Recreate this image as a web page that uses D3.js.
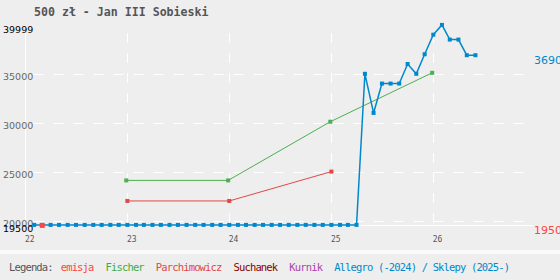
<!DOCTYPE html>
<html>
<head>
<meta charset="utf-8">
<script src="https://cdn.jsdelivr.net/npm/d3@7"></script>
<style>
  body { margin: 0; background: #eeeeee; }
  svg { display: block; }
</style>
</head>
<body>
<div id="chart"></div>
<script>
const title = "500 zł - Jan III Sobieski";

// allegro / sklepy, monthly
const allegroMonths = [
  "2022-02","2022-03","2022-04","2022-05","2022-06","2022-07","2022-08","2022-09","2022-10","2022-11","2022-12",
  "2023-01","2023-02","2023-03","2023-04","2023-05","2023-06","2023-07","2023-08","2023-09","2023-10","2023-11","2023-12",
  "2024-01","2024-02","2024-03","2024-04","2024-05","2024-06","2024-07","2024-08","2024-09","2024-10","2024-11","2024-12",
  "2025-01","2025-02","2025-03","2025-04","2025-05","2025-06","2025-07","2025-08","2025-09","2025-10","2025-11","2025-12",
  "2026-01","2026-02","2026-03","2026-04","2026-05","2026-06"
];
const allegroValues = [
  19550,19550,19550,19550,19550,19550,19550,19550,19550,19550,19550,
  19550,19550,19550,19550,19550,19550,19550,19550,19550,19550,19550,19550,
  19550,19550,19550,19550,19550,19550,19550,19550,19550,19550,19550,19550,
  19550,19550,19550,19550,35000,31000,34000,34000,34000,36000,35000,37000,
  39000,39999,38500,38500,36900,36900
];

const fischerDates = ["2022-12-28","2023-12-28","2024-12-28","2025-12-28"];
const fischerValues = [24100, 24100, 30100, 35100];

const parchDates = ["2023-01-01","2024-01-01","2025-01-01"];
const parchValues = [22000, 22000, 25000];

const emisjaDates = ["2022-03-02"];
const emisjaValues = [19500];

const yTicks = [35000, 30000, 25000, 20000];
const xYears = [2022, 2023, 2024, 2025, 2026];

const legendNames = ["emisja", "Fischer", "Parchimowicz", "Suchanek", "Kurnik", "Allegro (-2024) / Sklepy (2025-)"];
const legendColors = ["#ff4444", "#44aa44", "#e04848", "#880000", "#aa44aa", "#0088cc"];

const width = 560, height = 280;
const parse = d3.timeParse("%Y-%m-%d");
const parseMonth = d3.timeParse("%Y-%m");

const svg = d3.select("#chart").append("svg")
  .attr("width", width)
  .attr("height", height);

svg.append("rect").attr("width", width).attr("height", height).attr("fill", "#eeeeee");
svg.append("rect").attr("y", 250).attr("width", width).attr("height", 4).attr("fill", "#fafafa");

const x = d3.scaleTime()
  .domain([new Date(2022, 0, 1), new Date(2026, 0, 1)])
  .range([25.5, 433.3]);

const y = d3.scaleLinear()
  .domain([20000, 35000])
  .range([220.5, 73.8]);

const plotLeft = 25.5, plotRight = 533, plotTop = 33, plotBottom = y(19500);

// grid
svg.append("g").selectAll("line")
  .data(yTicks)
  .enter().append("line")
  .attr("x1", plotLeft).attr("x2", plotRight)
  .attr("y1", d => Math.round(y(d)) + 0.5).attr("y2", d => Math.round(y(d)) + 0.5)
  .attr("stroke", "#ffffff")
  .attr("stroke-dasharray", "10,10")
  .attr("stroke-dashoffset", -8);

svg.append("g").selectAll("line")
  .data(xYears.slice(1))
  .enter().append("line")
  .attr("x1", d => Math.round(x(new Date(d, 0, 1))) + 0.5)
  .attr("x2", d => Math.round(x(new Date(d, 0, 1))) + 0.5)
  .attr("y1", plotTop).attr("y2", plotBottom + 8)
  .attr("stroke", "#ffffff")
  .attr("stroke-dasharray", "10,10");

svg.append("line")
  .attr("x1", plotLeft).attr("x2", plotLeft).attr("y1", plotTop).attr("y2", Math.round(plotBottom) + 0.5)
  .attr("stroke", "#ffffff");
svg.append("line")
  .attr("x1", plotLeft).attr("x2", plotRight)
  .attr("y1", Math.round(plotBottom) + 0.5).attr("y2", Math.round(plotBottom) + 0.5)
  .attr("stroke", "#ffffff");

// y labels
svg.append("g").selectAll("text")
  .data(yTicks)
  .enter().append("text")
  .attr("x", 3)
  .attr("y", d => y(d) + 6.5)
  .attr("font-family", "DejaVu Sans")
  .attr("font-size", "9.5px")
  .attr("fill", "#666")
  .text(d => d);

svg.append("text")
  .attr("x", 3).attr("y", y(39999) + 8)
  .attr("font-family", "DejaVu Sans").attr("font-size", "9.5px").attr("fill", "#000")
  .text(39999);
svg.append("text")
  .attr("x", 3).attr("y", y(19500) + 6.5)
  .attr("font-family", "DejaVu Sans").attr("font-size", "9.5px").attr("fill", "#000")
  .text(19500);

// x labels
svg.append("g").selectAll("text")
  .data(xYears)
  .enter().append("text")
  .attr("x", d => x(new Date(d, 0, 1)) - 0.5)
  .attr("y", 242)
  .attr("font-family", "DejaVu Sans Mono")
  .attr("font-size", "8px")
  .attr("fill", "#555")
  .text(d => String(d).slice(2));

// series
function drawSeries(dates, values, color, lw, size) {
  const pts = dates.map((d, i) => [x(d), y(values[i])]);
  if (pts.length > 1) {
    svg.append("path")
      .attr("d", d3.line()(pts))
      .attr("fill", "none")
      .attr("stroke", color)
      .attr("stroke-width", lw);
  }
  svg.append("g").selectAll("rect")
    .data(pts)
    .enter().append("rect")
    .attr("x", d => d[0] - size / 2)
    .attr("y", d => d[1] - size / 2)
    .attr("width", size).attr("height", size)
    .attr("fill", color);
}

drawSeries(parchDates.map(parse), parchValues, "#e04848", 1, 4);
drawSeries(fischerDates.map(parse), fischerValues, "#4caf50", 1, 4);
drawSeries(allegroMonths.map(parseMonth), allegroValues, "#0088cc", 1.5, 4);
drawSeries(emisjaDates.map(parse), emisjaValues, "#ff4444", 1, 5);

// right labels
svg.append("text")
  .attr("x", 534).attr("y", y(allegroValues[allegroValues.length - 1]) + 8.5)
  .attr("font-family", "DejaVu Sans").attr("font-size", "11px").attr("fill", "#0088cc")
  .text(allegroValues[allegroValues.length - 1]);
svg.append("text")
  .attr("x", 534).attr("y", y(emisjaValues[0]) + 8.5)
  .attr("font-family", "DejaVu Sans").attr("font-size", "11px").attr("fill", "#ff4444")
  .text(emisjaValues[0]);

// title
svg.append("text")
  .attr("x", 34).attr("y", 16)
  .attr("font-family", "DejaVu Sans Mono")
  .attr("font-weight", "bold")
  .attr("font-size", "11.6px")
  .attr("fill", "#555")
  .text(title);

// legend
const legend = svg.append("g")
  .attr("font-family", "DejaVu Sans Mono")
  .attr("font-size", "10.5px")
  .attr("letter-spacing", "-0.85px");

legend.append("text")
  .attr("x", 9).attr("y", 271)
  .attr("fill", "#555")
  .text("Legenda:");

let lx = 60.7;
legendNames.forEach(function(name, i){
  const t = legend.append("text")
    .attr("x", lx).attr("y", 271)
    .attr("fill", legendColors[i])
    .text(name);
  lx += t.node().getComputedTextLength() + 12;
});
</script>
</body>
</html>
